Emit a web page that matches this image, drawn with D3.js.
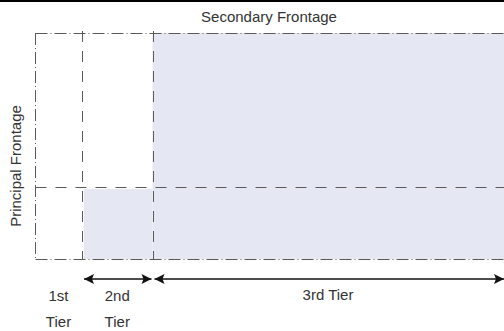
<!DOCTYPE html>
<html>
<head>
<meta charset="utf-8">
<script src="https://cdn.jsdelivr.net/npm/d3@7"></script>
<style>
  html, body { margin: 0; padding: 0; background: #fff; }
  svg { display: block; }
</style>
</head>
<body>
<svg id="chart" width="504" height="331"></svg>
<script>
// ---- data ----
const tiers = ["1st Tier", "2nd Tier", "3rd Tier"];
const tierStart = [0, 10, 25];          // along secondary frontage (units)
const tierEnd   = [10, 25, 100];
const principalSplit = 32;              // depth of horizontal split (units)
const shadedTop = [null, 31, 100];      // shaded depth for each tier (null = none)
const shadedInset = [0, 0.4, 0];        // small left inset of shading
const axisTitles = ["Secondary Frontage", "Principal Frontage"];
const arrowTiers = [1, 2];              // tiers that carry a dimension arrow

// ---- setup ----
const W = 504, H = 331;
const svg = d3.select("#chart");
const x = d3.scaleLinear().domain([0, 100]).range([35, 505]);
const y = d3.scaleLinear().domain([0, 100]).range([259, 33]);
const lineCol = "#5a5a5a";
const shade = "#e5e7f2";
const font = "'Liberation Sans', Arial, sans-serif";

// top black band
svg.append("rect").attr("x", 0).attr("y", 0).attr("width", W).attr("height", 2).attr("fill", "#000");

// shading
tiers.forEach((t, i) => {
  if (shadedTop[i] == null) return;
  svg.append("rect")
    .attr("x", x(tierStart[i] + shadedInset[i]))
    .attr("y", y(shadedTop[i]))
    .attr("width", x(tierEnd[i]) - x(tierStart[i] + shadedInset[i]))
    .attr("height", y(0) - y(shadedTop[i]))
    .attr("fill", shade);
});

const g = svg.append("g").attr("fill", "none").attr("stroke", lineCol).attr("stroke-width", 1);
const dashDot = "12,3,1,3";
const dashed = "11,9";

// outer boundary (dash-dot)
g.append("line").attr("x1", x(0)+0.5).attr("x2", x(100)).attr("y1", y(100)+0.5).attr("y2", y(100)+0.5).attr("stroke-dasharray", dashDot);
g.append("line").attr("x1", x(0)+0.5).attr("x2", x(100)).attr("y1", y(0)+0.5).attr("y2", y(0)+0.5).attr("stroke-dasharray", dashDot);
g.append("line").attr("x1", x(0)+0.5).attr("x2", x(0)+0.5).attr("y1", y(100)).attr("y2", y(0)+1).attr("stroke-dasharray", dashDot);

// inner tier boundaries (dashed)
[tierStart[1], tierStart[2]].forEach(v => {
  g.append("line").attr("x1", Math.round(x(v))+0.5).attr("x2", Math.round(x(v))+0.5)
    .attr("y1", y(100)-2).attr("y2", y(0)).attr("stroke-dasharray", dashed);
});
// horizontal split
g.append("line").attr("x1", x(0)+0.5).attr("x2", x(100)).attr("y1", Math.round(y(principalSplit))+0.5).attr("y2", Math.round(y(principalSplit))+0.5)
  .attr("stroke-dasharray", dashed);

// arrow marker
const defs = svg.append("defs");
["end", "start"].forEach(k => {
  defs.append("marker").attr("id", "arr-" + k)
    .attr("viewBox", "0 0 10 10").attr("refX", 10).attr("refY", 5)
    .attr("markerUnits", "userSpaceOnUse").attr("markerWidth", 12).attr("markerHeight", 10)
    .attr("orient", k === "end" ? "auto" : "auto-start-reverse")
    .append("path").attr("d", "M0,0 L10,5 L0,10 L2,5 Z").attr("fill", "#111");
});
const arrowY = 279;
arrowTiers.forEach(i => {
  svg.append("line")
    .attr("x1", x(tierStart[i]) + 2).attr("x2", x(tierEnd[i]) - 1)
    .attr("y1", arrowY).attr("y2", arrowY)
    .attr("stroke", "#111").attr("stroke-width", 1.6)
    .attr("marker-start", "url(#arr-start)").attr("marker-end", "url(#arr-end)");
});

// labels
const txt = svg.append("g").attr("font-family", font).attr("font-size", 15).attr("fill", "#333");
txt.append("text").attr("x", 269).attr("y", 22).attr("text-anchor", "middle").text(axisTitles[0]);
txt.append("text").attr("transform", "translate(21,166) rotate(-90)").attr("text-anchor", "middle").text(axisTitles[1]);

// tier labels
tiers.forEach((t, i) => {
  const cx = (x(tierStart[i]) + x(Math.min(tierEnd[i], 100))) / 2;
  if (i < 2) {
    const parts = t.split(" ");
    txt.append("text").attr("x", cx).attr("y", 301).attr("text-anchor", "middle").text(parts[0]);
    txt.append("text").attr("x", cx).attr("y", 327).attr("text-anchor", "middle").text(parts[1]);
  } else {
    txt.append("text").attr("x", 328).attr("y", 300).attr("text-anchor", "middle").text(t);
  }
});
</script>
</body>
</html>
